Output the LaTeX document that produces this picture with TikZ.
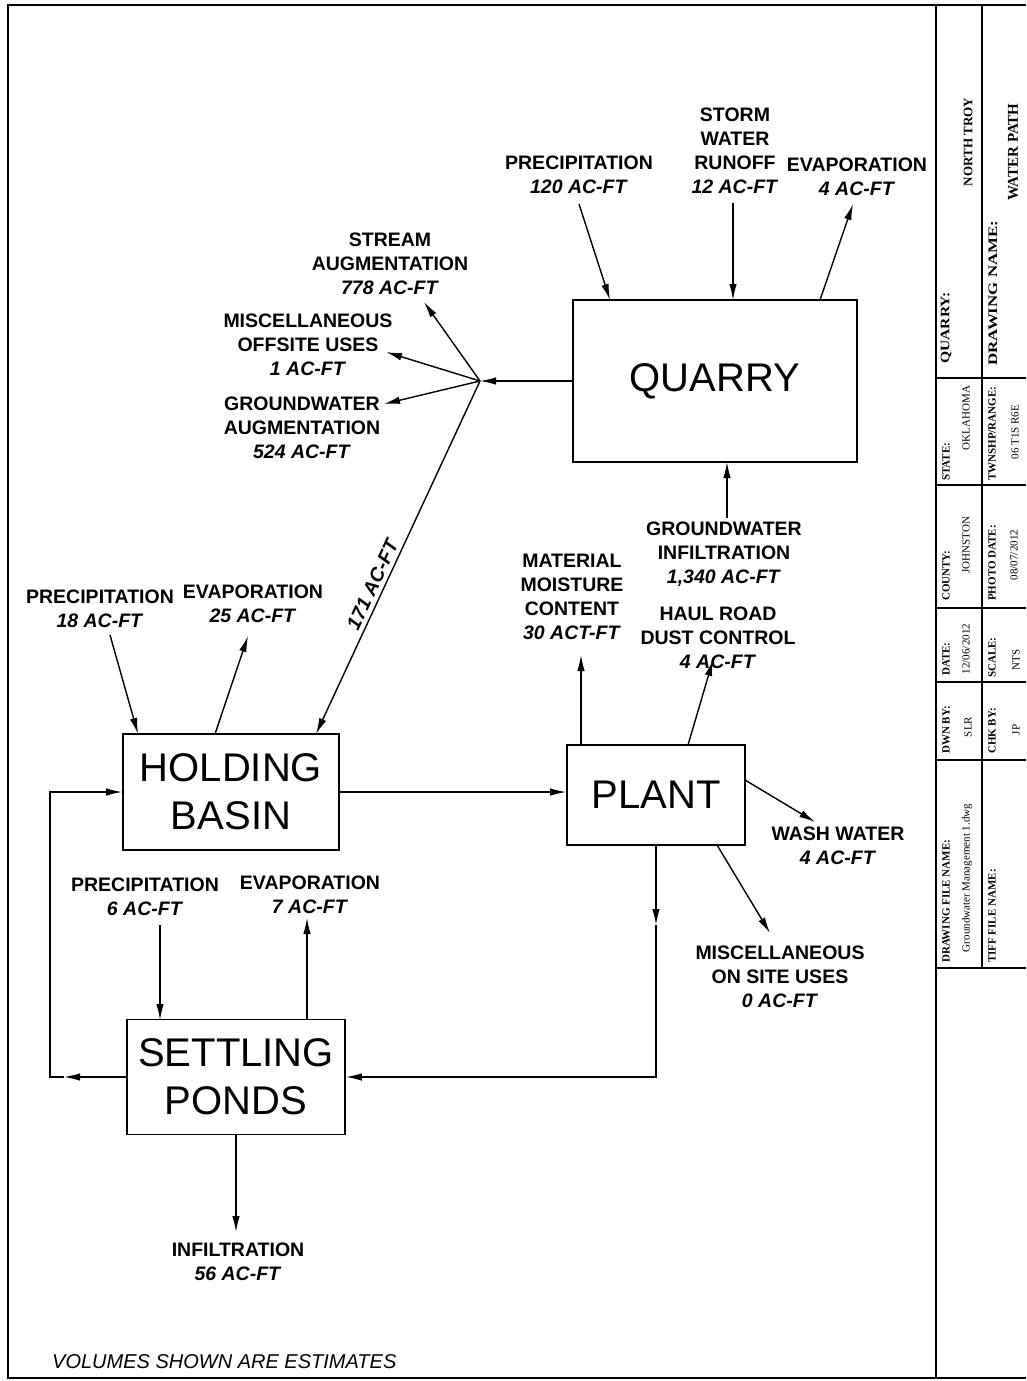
\documentclass[tikz,border=0pt]{standalone}
\usepackage{fontspec}
\setmainfont{Liberation Sans}
\newfontfamily\blockfont{Liberation Serif}
\usetikzlibrary{arrows.meta,positioning}

\begin{document}
\begin{tikzpicture}[
    x=1pt, y=-1pt,
    box/.style={draw, line width=1.6pt, inner sep=0pt, align=center,
      font=\fontsize{40}{48}\selectfont},
    lbl/.style={align=center, inner sep=0pt,
      font=\fontsize{19.5}{24}\selectfont\bfseries},
    arrow/.style={-{Latex[length=16pt,width=7.5pt]}, line width=1.4pt},
    frame/.style={line width=2.2pt},
    tbline/.style={line width=2.6pt},
    tbhead/.style={rotate=90, anchor=west, inner sep=0pt,
      font=\blockfont\fontsize{11}{12}\selectfont\bfseries},
    tbval/.style={rotate=90, inner sep=0pt,
      font=\blockfont\fontsize{11}{12}\selectfont}
  ]
  \useasboundingbox (0,0) rectangle (1026,1381);

  \node[box, minimum width=284pt, minimum height=162pt] (quarry) at (715,381) {QUARRY};
  \node[box, minimum width=216pt, minimum height=116pt] (basin) at (231,792) {HOLDING\\BASIN};
  \node[box, minimum width=178pt, minimum height=100pt] (plant) at (656,795) {PLANT};
  \node[box, minimum width=218pt, minimum height=115pt] (ponds) at (236,1077) {SETTLING\\PONDS};

  \node[lbl] (qprecip) at (579,174.5) {PRECIPITATION\\\textit{120 AC-FT}};
  \node[lbl] (qstorm) at (735,150.5) {STORM\\WATER\\RUNOFF\\\textit{12 AC-FT}};
  \node[lbl] (qevap) at (857,177) {EVAPORATION\\\textit{4 AC-FT}};
  \node[lbl] (stream) at (390,263.5) {STREAM\\AUGMENTATION\\\textit{778 AC-FT}};
  \node[lbl] (offsite) at (308,345) {MISCELLANEOUS\\OFFSITE USES\\\textit{1 AC-FT}};
  \node[lbl] (gwaug) at (302,428) {GROUNDWATER\\AUGMENTATION\\\textit{524 AC-FT}};
  \node[lbl] (gwinf) at (724,554.5) {GROUNDWATER\\INFILTRATION\\\textit{1,340 AC-FT}};
  \node[lbl] (bprecip) at (100,608.5) {PRECIPITATION\\\textit{18 AC-FT}};
  \node[lbl] (bevap) at (253,604) {EVAPORATION\\\textit{25 AC-FT}};
  \node[lbl] (moist) at (572,596.5) {MATERIAL\\MOISTURE\\CONTENT\\\textit{30 ACT-FT}};
  \node[lbl] (haul) at (718,637.5) {HAUL ROAD\\DUST CONTROL\\\textit{4 AC-FT}};
  \node[lbl] (wash) at (838,846) {WASH WATER\\\textit{4 AC-FT}};
  \node[lbl] (onsite) at (780,977) {MISCELLANEOUS\\ON SITE USES\\\textit{0 AC-FT}};
  \node[lbl] (pprecip) at (145,897) {PRECIPITATION\\\textit{6 AC-FT}};
  \node[lbl] (pevap) at (310,895) {EVAPORATION\\\textit{7 AC-FT}};
  \node[lbl] (infil) at (238,1262) {INFILTRATION\\\textit{56 AC-FT}};
  \node[lbl, anchor=west, font=\fontsize{20}{24}\selectfont\itshape] (note) at (52,1362)
    {VOLUMES SHOWN ARE ESTIMATES};

  \coordinate (jn) at (480,381);
  \coordinate (qp0) at (579,204);
  \coordinate (qp1) at (610,300);
  \coordinate (qs0) at (733,203);
  \coordinate (qs1) at (733,300);
  \coordinate (qe0) at (820,300);
  \coordinate (qe1) at (853,204);
  \coordinate (sa1) at (424,302);
  \coordinate (mo1) at (386,352);
  \coordinate (ga1) at (384,404);
  \coordinate (bq1) at (316,734);
  \coordinate (gi0) at (727,518);
  \coordinate (gi1) at (727,462);
  \coordinate (bp0) at (110,635);
  \coordinate (bp1) at (138,734);
  \coordinate (be0) at (215,734);
  \coordinate (be1) at (248,636);
  \coordinate (pm0) at (581,745);
  \coordinate (pm1) at (581,655);
  \coordinate (ph0) at (688,745);
  \coordinate (ph1) at (713,660);
  \coordinate (pw0) at (745,780);
  \coordinate (pw1) at (815,822);
  \coordinate (po0) at (717,845);
  \coordinate (po1) at (770,933);
  \coordinate (pd) at (656,925);
  \coordinate (sp0) at (160,925);
  \coordinate (sp1) at (160,1020);
  \coordinate (se0) at (307,1020);
  \coordinate (se1) at (307,918);
  \coordinate (si1) at (236,1232);
  \coordinate (lp) at (64,1077);
  \coordinate (lc) at (50,1077);

  \draw[arrow] (qp0) -- (qp1);
  \draw[arrow] (qs0) -- (qs1);
  \draw[arrow] (qe0) -- (qe1);
  \draw[arrow] (quarry.west) -- (jn);
  \draw[arrow] (jn) -- (sa1);
  \draw[arrow] (jn) -- (mo1);
  \draw[arrow] (jn) -- (ga1);
  \draw[arrow] (jn) -- node[lbl, sloped, above=4pt, pos=0.59] (oneseventy) {\textit{171 AC-FT}} (bq1);
  \draw[arrow] (gi0) -- (gi1);
  \draw[arrow] (bp0) -- (bp1);
  \draw[arrow] (be0) -- (be1);
  \draw[arrow] (basin.east) -- (basin.east -| plant.west);
  \draw[arrow] (pm0) -- (pm1);
  \draw[arrow] (ph0) -- (ph1);
  \draw[arrow] (pw0) -- (pw1);
  \draw[arrow] (po0) -- (po1);
  \draw[arrow] (plant.south) -- (pd);
  \draw[arrow] (pd) |- (ponds.east);
  \draw[arrow] (sp0) -- (sp1);
  \draw[arrow] (se0) -- (se1);
  \draw[arrow] (ponds.south) -- (si1);
  \draw[arrow] (ponds.west) -- (lp);
  \draw[arrow] (lp) -- (lc) |- (basin.west);

  \draw[frame] (1026,5) -- (8,5) -- (8,1378) -- (1026,1378);
  \draw[tbline] (936,5) -- (936,1378);
  \draw[tbline] (982,5) -- (982,968);
  \draw[tbline] (936,378) -- (1026,378);
  \draw[tbline] (936,485) -- (1026,485);
  \draw[tbline] (936,608) -- (1026,608);
  \draw[tbline] (936,682) -- (1026,682);
  \draw[tbline] (936,760) -- (1026,760);
  \draw[tbline] (936,968) -- (1026,968);

  \node[tbhead, font=\blockfont\fontsize{13}{14}\selectfont\bfseries, xscale=1.2] (tq) at (946,364) {QUARRY:};
  \node[tbval, font=\blockfont\fontsize{13}{14}\selectfont\bfseries] (tqv) at (968,142) {NORTH TROY};
  \node[tbhead, font=\blockfont\fontsize{13}{14}\selectfont\bfseries, xscale=1.3] (tdn) at (993,366) {DRAWING NAME:};
  \node[tbval, font=\blockfont\fontsize{15}{16}\selectfont\bfseries] (tdnv) at (1013,152) {WATER PATH};
  \node[tbhead] (tst) at (946,481) {STATE:};
  \node[tbval] (tstv) at (966,418) {OKLAHOMA};
  \node[tbhead] (ttr) at (992,481) {TWNSHP/RANGE:};
  \node[tbval] (ttrv) at (1015,432) {06 T1S R6E};
  \node[tbhead] (tco) at (946,601) {COUNTY:};
  \node[tbval] (tcov) at (966,545) {JOHNSTON};
  \node[tbhead] (tpd) at (992,601) {PHOTO DATE:};
  \node[tbval] (tpdv) at (1014,555) {08/07/2012};
  \node[tbhead] (tda) at (946,676) {DATE:};
  \node[tbval] (tdav) at (966,649) {12/06/2012};
  \node[tbhead] (tsc) at (992,678) {SCALE:};
  \node[tbval] (tscv) at (1016,660) {NTS};
  \node[tbhead] (tdw) at (946,754) {DWN BY:};
  \node[tbval] (tdwv) at (968,727) {SLR};
  \node[tbhead] (tck) at (992,754) {CHK BY:};
  \node[tbval] (tckv) at (1016,730) {JP};
  \node[tbhead] (tfn) at (946,963) {DRAWING FILE NAME:};
  \node[tbval] (tfnv) at (967,878) {Groundwater Management 1.dwg};
  \node[tbhead] (ttf) at (992,963) {TIFF FILE NAME:};
\end{tikzpicture}
\end{document}
